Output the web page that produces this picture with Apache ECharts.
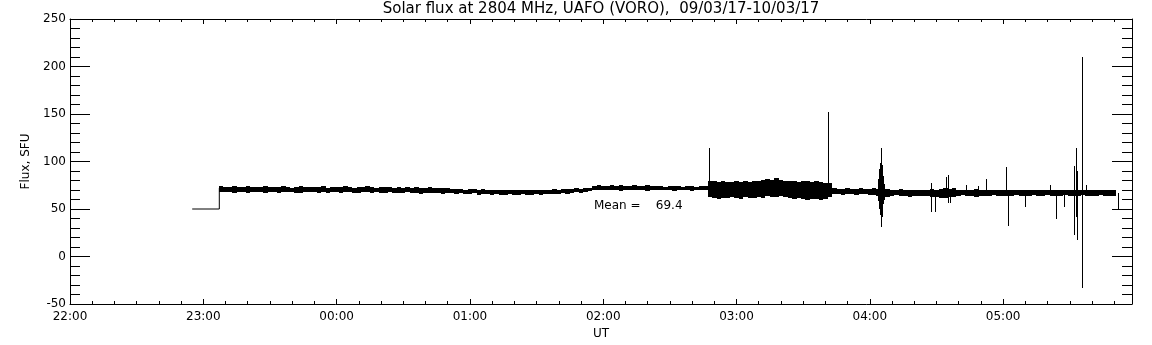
<!DOCTYPE html>
<html>
<head>
<meta charset="utf-8">
<title>Solar flux at 2804 MHz</title>
<script src="https://cdn.jsdelivr.net/npm/echarts@6/dist/echarts.min.js"></script>
<style>
  html, body { margin: 0; padding: 0; background: #fff; }
  #chart { width: 1152px; height: 345px; }
</style>
</head>
<body>
<div id="chart"></div>
<script>
// time is in minutes after 22:00 UT
const hourTicks = ['22:00', '23:00', '00:00', '01:00', '02:00', '03:00', '04:00', '05:00']

// flat 50 SFU segment before the receiver came up
const stepTime = [55, 67.2, 67.2]
const stepFlux = [50, 50, 72]

// noisy band, 2-minute bins starting at 23:07
const bandStart = 67
const bandStep = 2
const bandHigh = [
  74, 73, 73.5, 74, 73, 73, 74.5, 73, 73.5, 73,
  74, 73, 73, 73.5, 74, 73, 72.5, 73, 74, 73,
  73.5, 73, 73, 74, 72.5, 73, 73, 73.5, 74, 73,
  72.5, 73, 73, 74, 73, 72.5, 73, 73.5, 73, 72.5,
  73, 72, 73, 72.5, 73, 72, 72.5, 73, 72, 72.5,
  72, 72,
  71.5, 71, 71.5, 70.5, 71, 71, 70.5, 71, 70, 70.5,
  70, 70.5, 69.5, 70, 70.5, 69.5, 70, 70, 69.5, 70.5,
  70, 70.5, 70, 71, 70.5, 71, 71.5, 71, 72, 71.5,
  72, 72.5,
  74, 75, 74.5, 74, 75, 74.5, 75.5, 74.5, 74, 75,
  74.5, 74, 75, 74.5, 74, 74.5, 73.5, 74, 74.5, 74,
  73.5, 74, 74.5, 73.5, 74, 74,
  80, 79, 78.5, 79, 78, 78.5, 79, 78, 79.5, 78.5,
  79, 80, 80.5, 82, 81, 82.5, 81, 80, 79.5, 79,
  78.5, 79.5, 79, 78, 79, 78, 77.5, 77,
  72, 71.5, 71, 72, 71.5, 71, 72, 71.5, 71, 72,
  71, 70.5, 71, 70, 70.5, 71, 70, 70.5, 70, 70.5,
  70, 70.5, 71, 70, 71.5, 72, 71, 72, 70.5, 70,
  70.5, 70, 71, 70, 70.5, 70, 69.5, 70, 70.5, 70,
  70, 69.5, 70, 70.5, 70, 69.5, 70, 70.5, 70, 69.5,
  70, 70.5, 70, 69.5, 70, 70.5, 70, 69.5, 70, 70.5,
  70, 69.5, 70, 70
]
const bandLow = [
  68, 67.5, 68, 67, 68, 67.5, 66.5, 68, 67.5, 68,
  67, 68, 67.5, 66.5, 68, 67.5, 68, 67, 66.5, 68,
  67.5, 68, 67, 67.5, 66.5, 68, 67.5, 67, 68, 67.5,
  67, 66.5, 67.5, 68, 67, 67.5, 66.5, 67, 67.5, 67,
  66.5, 67, 67.5, 66.5, 67, 66, 67, 66.5, 67, 66.5,
  66, 66.5,
  66.5, 66, 66.5, 65.5, 66, 66.5, 65, 66, 65.5, 65,
  65.5, 64.5, 65, 65.5, 64.5, 65, 65.5, 64.5, 65, 65.5,
  65, 65.5, 66, 65.5, 66, 66.5, 66, 67, 67.5, 67,
  68, 68.5,
  70, 69.5, 70, 70.5, 69.5, 70, 69, 70, 70.5, 69.5,
  70, 69.5, 69, 70, 70.5, 69.5, 70, 69.5, 69, 70,
  69.5, 70, 69, 69.5, 70, 69.5,
  63, 62, 60.5, 62, 61.5, 63, 62, 61, 62.5, 62,
  61.5, 63, 62, 63.5, 62.5, 63, 64, 63, 62, 60.5,
  62, 61, 60, 61, 60.5, 60, 61, 62.5,
  65.5, 66, 65, 66, 65.5, 65, 66, 65.5, 65, 64.5,
  63.5, 64, 63, 64, 64.5, 63.5, 64, 63, 64, 63.5,
  64, 63.5, 62.5, 63, 62, 61.5, 62.5, 63, 64, 64.5,
  63.5, 64, 63, 64, 63.5, 64, 64.5, 63.5, 64, 63.5,
  64, 64.5, 64, 63.5, 64, 64.5, 63.5, 64, 64.5, 64,
  63.5, 64, 64.5, 64, 63.5, 64, 64.5, 64, 63.5, 64,
  64.5, 64, 63.5, 64
]

// single-sample spikes (and the drop at the end of the record)
const spikeTime = [287.7, 341.2, 363.6, 364.1, 364.6, 365.1, 365.6, 366.1, 366.6,
  387.5, 389.3, 394.1, 395.2, 396, 403.1, 408.6, 412.5, 421.5, 422.2, 429.9,
  441, 443.8, 447.4, 451.8, 452.6, 453.3, 455.3, 455.7, 457.5, 471.5]
const spikeLow = [70, 66, 58, 50, 44, 31, 42, 55, 60,
  47, 47, 66, 56, 56, 64, 64, 64, 64, 32.5, 52.5,
  64, 40, 52, 22.5, 42, 17.5, -33, -33, 64, 50]
const spikeHigh = [114, 152, 82, 92, 98, 114, 96, 85, 76,
  77, 70, 83.5, 86, 70, 75.5, 74.5, 81.5, 94.5, 70, 70,
  75.5, 70, 70, 95.5, 114, 90, 210, 204, 75.5, 67]

const meanFlux = 69.4

const font = 'DejaVu Sans'
const black = '#000'

const bandData = bandHigh.map((h, i) => [bandStart + i * bandStep, bandLow[i], h])
const spikeData = spikeTime.map((t, i) => [t, spikeLow[i], spikeHigh[i]])
const stepData = stepTime.map((t, i) => [t, stepFlux[i]])

const xBase = { type: 'value', min: 0, max: 478, splitLine: { show: false } }
const yBase = { type: 'value', min: -50, max: 250, splitLine: { show: false } }
const lineStyle = { lineStyle: { color: black, width: 1 } }
const hiddenLine = { show: false, onZero: false }
const shownLine = { show: true, onZero: false, ...lineStyle }

const chart = echarts.init(document.getElementById('chart'))

chart.setOption({
  animation: false,
  backgroundColor: '#fff',
  grid: { left: 70, right: 20, top: 19, bottom: 41 },
  graphic: [
    {
      type: 'text', x: 601, y: 2,
      style: {
        text: 'Solar flux at 2804 MHz, UAFO (VORO),  09/03/17-10/03/17',
        fill: black, font: '15px "' + font + '"', textAlign: 'center'
      }
    },
    {
      type: 'text', x: 594, y: 200,
      style: { text: 'Mean =    ' + meanFlux.toFixed(1), fill: black, font: '12px "' + font + '"' }
    }
  ],
  xAxis: [
    {
      ...xBase, position: 'bottom', interval: 60,
      name: 'UT', nameLocation: 'middle', nameGap: 17,
      nameTextStyle: { color: black, fontFamily: font, fontSize: 12 },
      axisLine: shownLine,
      axisTick: { inside: true, length: 5, ...lineStyle },
      axisLabel: {
        color: black, fontFamily: font, fontSize: 12, margin: 7, showMaxLabel: false,
        formatter: v => hourTicks[Math.round(v / 60)] || ''
      }
    },
    {
      ...xBase, position: 'bottom', interval: 10,
      axisLine: hiddenLine, axisLabel: { show: false },
      axisTick: { inside: true, length: 3, ...lineStyle }
    },
    {
      ...xBase, position: 'top', interval: 60,
      axisLine: shownLine, axisLabel: { show: false },
      axisTick: { inside: true, length: 5, ...lineStyle }
    },
    {
      ...xBase, position: 'top', interval: 10,
      axisLine: hiddenLine, axisLabel: { show: false },
      axisTick: { inside: true, length: 3, ...lineStyle }
    }
  ],
  yAxis: [
    {
      ...yBase, position: 'left', interval: 50,
      name: 'Flux, SFU', nameLocation: 'middle', nameGap: 33,
      nameTextStyle: { color: black, fontFamily: font, fontSize: 12 },
      axisLine: shownLine,
      axisTick: { inside: true, length: 20, ...lineStyle },
      axisLabel: { color: black, fontFamily: font, fontSize: 12, margin: 4 }
    },
    {
      ...yBase, position: 'left', interval: 10,
      axisLine: hiddenLine, axisLabel: { show: false },
      axisTick: { inside: true, length: 10, ...lineStyle }
    },
    {
      ...yBase, position: 'right', interval: 50,
      axisLine: shownLine, axisLabel: { show: false },
      axisTick: { inside: true, length: 20, ...lineStyle }
    },
    {
      ...yBase, position: 'right', interval: 10,
      axisLine: hiddenLine, axisLabel: { show: false },
      axisTick: { inside: true, length: 10, ...lineStyle }
    }
  ],
  series: [
    {
      type: 'line',
      data: stepData,
      showSymbol: false,
      lineStyle: { color: black, width: 1 },
      silent: true
    },
    {
      type: 'custom',
      data: bandData,
      encode: { x: 0, y: [1, 2] },
      silent: true,
      renderItem: (params, api) => {
        const top = api.coord([api.value(0), api.value(2)])
        const bottom = api.coord([api.value(0) + bandStep, api.value(1)])
        const x0 = Math.round(top[0])
        const y0 = Math.round(top[1])
        return {
          type: 'rect',
          shape: { x: x0, y: y0, width: Math.round(bottom[0]) - x0, height: Math.round(bottom[1]) - y0 },
          style: { fill: black }
        }
      }
    },
    {
      type: 'custom',
      data: spikeData,
      encode: { x: 0, y: [1, 2] },
      silent: true,
      renderItem: (params, api) => {
        const hi = api.coord([api.value(0), api.value(2)])
        const lo = api.coord([api.value(0), api.value(1)])
        const x = Math.round(hi[0]) + 0.5
        return {
          type: 'line',
          shape: { x1: x, y1: Math.round(hi[1]), x2: x, y2: Math.round(lo[1]) },
          style: { stroke: black, lineWidth: 1 }
        }
      }
    }
  ]
})

window.addEventListener('resize', () => {
  chart.resize()
})
</script>
</body>
</html>
